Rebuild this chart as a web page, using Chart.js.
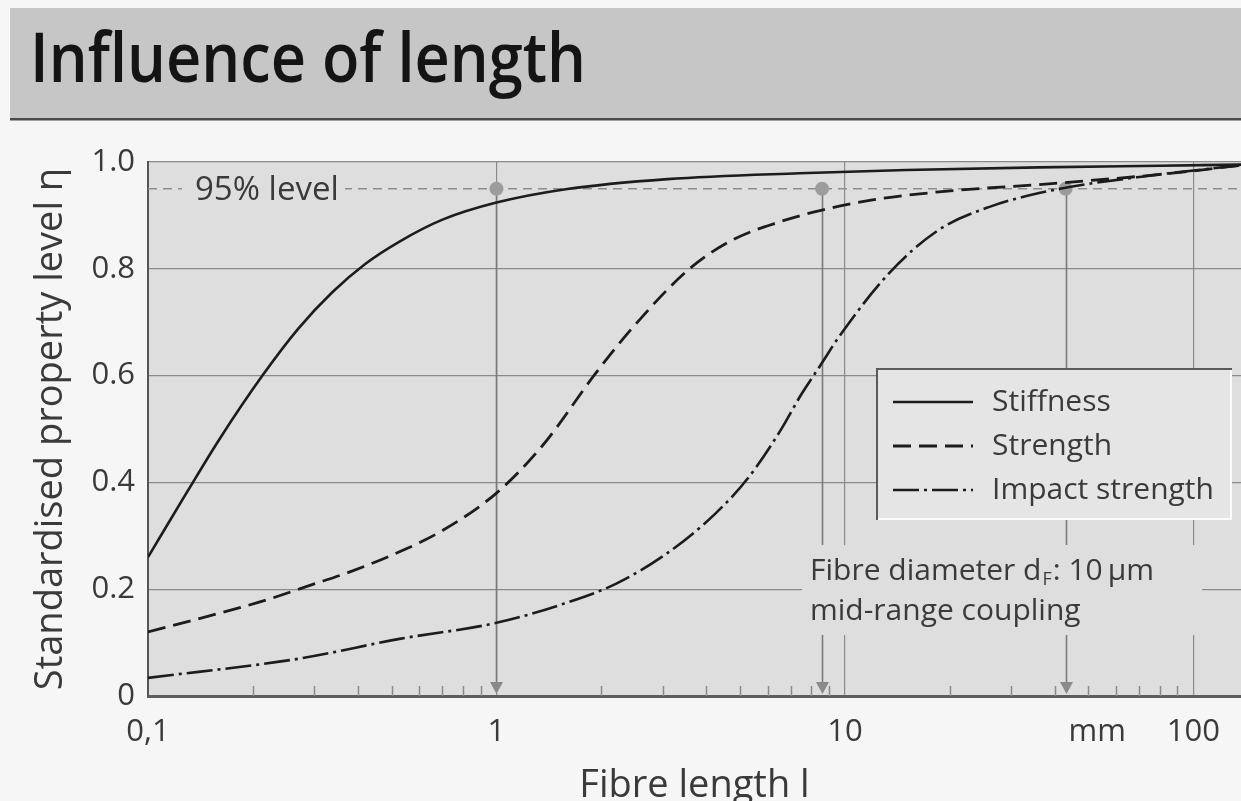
<!DOCTYPE html>
<html>
<head>
<meta charset="utf-8">
<title>Influence of length</title>
<script src="https://cdn.jsdelivr.net/npm/chart.js@4.4.1/dist/chart.umd.min.js"></script>
<style>
  html, body { margin: 0; padding: 0; background: #f6f6f6; }
  #wrap { width: 1241px; height: 801px; }
  canvas { display: block; }
</style>
</head>
<body>
<div id="wrap"><canvas id="chart" width="1241" height="801"></canvas></div>
<script>
// Fibre length l (mm) and standardised property level η of each curve
const stiffnessLength = [0.1, 0.13, 0.16, 0.213, 0.27, 0.338, 0.42, 0.527, 0.7, 1.0, 1.58, 3.1, 7.4, 15, 36, 80, 137];
const stiffnessLevel  = [0.26, 0.384, 0.48, 0.6, 0.688, 0.756, 0.809, 0.851, 0.892, 0.924, 0.949, 0.968, 0.979, 0.985, 0.99, 0.993, 0.995];

const strengthLength = [0.1, 0.15, 0.219, 0.3, 0.378, 0.527, 0.7, 1.0, 1.36, 1.93, 2.46, 3.58, 4.76, 6.5, 8.6, 12, 18.6, 40, 87, 137];
const strengthLevel  = [0.12, 0.15, 0.18, 0.21, 0.232, 0.27, 0.31, 0.38, 0.47, 0.605, 0.69, 0.80, 0.854, 0.888, 0.91, 0.929, 0.944, 0.96, 0.979, 0.994];

const impactLength = [0.1, 0.272, 0.527, 1.0, 1.58, 2.2, 3.1, 4.27, 5.3, 6.5, 7.5, 8.6, 9.6, 13.4, 18.6, 26, 40, 70, 137];
const impactLevel  = [0.034, 0.07, 0.107, 0.137, 0.174, 0.21, 0.268, 0.343, 0.41, 0.495, 0.565, 0.624, 0.672, 0.792, 0.873, 0.916, 0.948, 0.972, 0.994];

// 95 % level and the lengths where it is marked
const thresholdLevel = 0.95;
const markedLengths = [1, 8.6, 43];

// Axis ticks
const xMin = 0.1, xMax = 137;
const xTickValues = [0.1, 1, 10, 53, 100];
const xTickLabels = ['0,1', '1', '10', 'mm', '100'];
const xGridValues = [1, 10, 100];
const yTickValues = [0, 0.2, 0.4, 0.6, 0.8, 1.0];
const yTickLabels = ['0', '0.2', '0.4', '0.6', '0.8', '1.0'];

const FONT = "'Open Sans', 'Noto Sans', 'DejaVu Sans', sans-serif";
const TEXT = '#3a3a3a';
const PLOT_BG = '#dedede';
const GRID = '#8a8a8a';

const pts = (xs, ys) => xs.map((x, i) => ({ x: x, y: ys[i] }));

// Page background, title band and plot background
const backdrop = {
  id: 'backdrop',
  beforeDraw(chart) {
    const ctx = chart.ctx, a = chart.chartArea;
    ctx.save();
    ctx.fillStyle = '#f6f6f6';
    ctx.fillRect(0, 0, chart.width, chart.height);
    ctx.fillStyle = '#c6c6c6';
    ctx.fillRect(10, 8, chart.width - 10, 111);
    ctx.fillStyle = '#4a4a4a';
    ctx.fillRect(10, 118, chart.width - 10, 2.5);

    // heading, fitted to its width
    const heading = 'Influence of length';
    ctx.font = "600 69px 'Liberation Sans Narrow', 'Open Sans', 'Noto Sans', sans-serif";
    const w = ctx.measureText(heading).width;
    const sx = Math.min(1, 556 / w);
    ctx.translate(30, 82);
    ctx.scale(sx, 1);
    ctx.fillStyle = '#141414';
    ctx.textBaseline = 'alphabetic';
    ctx.fillText(heading, 0, 0);
    ctx.restore();

    ctx.save();
    ctx.fillStyle = PLOT_BG;
    ctx.fillRect(a.left, a.top, a.right - a.left, a.bottom - a.top);
    ctx.restore();
  }
};

// Minor ticks on the length axis and arrows dropped from the 95 % level
const guides = {
  id: 'guides',
  beforeDatasetsDraw(chart) {
    const ctx = chart.ctx, xs = chart.scales.x, ys = chart.scales.y;
    const base = ys.getPixelForValue(0);
    ctx.save();
    ctx.strokeStyle = GRID;
    ctx.lineWidth = 1.5;
    for (let d = 0.1; d < xMax; d *= 10) {
      for (let m = 2; m <= 9; m++) {
        const v = m * d;
        if (v > xMax) break;
        const px = Math.round(xs.getPixelForValue(v)) + 0.5;
        ctx.beginPath();
        ctx.moveTo(px, base);
        ctx.lineTo(px, base - 10);
        ctx.stroke();
      }
    }
    const top = ys.getPixelForValue(thresholdLevel);
    markedLengths.forEach(v => {
      const px = Math.round(xs.getPixelForValue(v)) + 0.5;
      ctx.strokeStyle = '#7a7a7a';
      ctx.lineWidth = 1.6;
      ctx.beginPath();
      ctx.moveTo(px, top);
      ctx.lineTo(px, base - 12);
      ctx.stroke();
      ctx.fillStyle = '#8a8a8a';
      ctx.beginPath();
      ctx.moveTo(px - 6.5, base - 14);
      ctx.lineTo(px + 6.5, base - 14);
      ctx.lineTo(px, base - 2);
      ctx.closePath();
      ctx.fill();
    });
    ctx.restore();
  },
  afterDatasetsDraw(chart) {
    const ctx = chart.ctx, ys = chart.scales.y;
    ctx.save();

    // label on the 95 % level line
    const ly = ys.getPixelForValue(thresholdLevel);
    ctx.fillStyle = PLOT_BG;
    ctx.fillRect(182, ly - 12, 163, 24);
    ctx.font = '33px ' + FONT;
    ctx.fillStyle = TEXT;
    ctx.textBaseline = 'middle';
    ctx.fillText('95% level', 195, ly + 2);

    // legend box
    const bx = 876, by = 368, bw = 356, bh = 152;
    ctx.fillStyle = '#e5e5e5';
    ctx.fillRect(bx, by, bw, bh);
    ctx.fillStyle = '#fbfbfb';
    ctx.fillRect(bx, by + bh - 2, bw, 2);
    ctx.fillRect(bx + bw - 2, by, 2, bh);
    ctx.fillStyle = '#5a5a5a';
    ctx.fillRect(bx, by, bw, 2);
    ctx.fillRect(bx, by, 2, bh);
    const rows = [402, 446, 490];
    ctx.font = '30px ' + FONT;
    chart.data.datasets.filter(ds => ds.inLegend).forEach((ds, i) => {
      const y = rows[i];
      ctx.save();
      ctx.strokeStyle = ds.borderColor;
      ctx.lineWidth = ds.borderWidth;
      ctx.setLineDash(ds.borderDash || []);
      ctx.beginPath();
      ctx.moveTo(893, y);
      ctx.lineTo(973, y);
      ctx.stroke();
      ctx.restore();
      ctx.fillStyle = TEXT;
      ctx.textBaseline = 'middle';
      ctx.fillText(ds.label, 992, y);
    });

    // fibre note
    ctx.fillStyle = PLOT_BG;
    ctx.fillRect(802, 545, 400, 90);
    ctx.fillStyle = TEXT;
    ctx.textBaseline = 'alphabetic';
    ctx.font = '30px ' + FONT;
    let x = 810;
    const p1 = 'Fibre diameter d';
    ctx.fillText(p1, x, 580);
    x += ctx.measureText(p1).width + 1;
    ctx.font = '18px ' + FONT;
    ctx.fillText('F', x, 585);
    x += ctx.measureText('F').width + 1;
    ctx.font = '30px ' + FONT;
    ctx.fillText(': 10\u2009\u00b5m', x, 580);
    ctx.fillText('mid-range coupling', 810, 620);
    ctx.restore();
  }
};

const curveStyle = {
  borderColor: '#1c1c1c',
  pointRadius: 0,
  fill: false,
  cubicInterpolationMode: 'monotone',
  order: 0,
  inLegend: true
};

new Chart(document.getElementById('chart'), {
  type: 'line',
  data: {
    datasets: [
      Object.assign({}, curveStyle, {
        label: 'Stiffness',
        data: pts(stiffnessLength, stiffnessLevel),
        borderWidth: 2.6
      }),
      Object.assign({}, curveStyle, {
        label: 'Strength',
        data: pts(strengthLength, strengthLevel),
        borderWidth: 2.8,
        borderDash: [18, 8]
      }),
      Object.assign({}, curveStyle, {
        label: 'Impact strength',
        data: pts(impactLength, impactLevel),
        borderWidth: 2.6,
        borderDash: [26, 5, 3, 5]
      }),
      {
        label: '95% level',
        data: pts([xMin, xMax], [thresholdLevel, thresholdLevel]),
        borderColor: '#8e8e8e',
        borderWidth: 1.6,
        borderDash: [9, 6],
        pointRadius: 0,
        order: 2
      },
      {
        label: 'marks',
        data: pts(markedLengths, markedLengths.map(() => thresholdLevel)),
        showLine: false,
        pointRadius: 7,
        pointBackgroundColor: '#9c9c9c',
        pointBorderWidth: 0,
        order: 1
      }
    ]
  },
  options: {
    responsive: false,
    animation: false,
    events: [],
    devicePixelRatio: 1,
    layout: { autoPadding: false, padding: { left: 20, top: 162, right: 0, bottom: 0 } },
    plugins: {
      legend: { display: false },
      tooltip: { enabled: false },
      title: { display: false }
    },
    scales: {
      x: {
        type: 'logarithmic',
        position: 'bottom',
        min: xMin,
        max: xMax,
        afterBuildTicks: s => { s.ticks = xTickValues.map(v => ({ value: v })); },
        afterFit: s => { s.height = 105; s.paddingLeft = 0; s.paddingRight = 0; },
        ticks: {
          autoSkip: false,
          maxRotation: 0,
          padding: 18,
          color: TEXT,
          font: { family: FONT, size: 31 },
          callback: (v, i) => xTickLabels[i]
        },
        grid: {
          drawTicks: false,
          lineWidth: 1.2,
          color: c => (c.tick && xGridValues.includes(c.tick.value)) ? GRID : 'rgba(0,0,0,0)'
        },
        border: { color: '#5e5e5e', width: 3 },
        title: {
          display: true,
          text: 'Fibre length l',
          color: TEXT,
          font: { family: FONT, size: 38, lineHeight: 0.8 },
          padding: 0
        }
      },
      y: {
        type: 'linear',
        min: 0,
        max: 1,
        afterBuildTicks: s => { s.ticks = yTickValues.map(v => ({ value: v })); },
        afterFit: s => { s.width = 128; s.paddingTop = 0; s.paddingBottom = 0; },
        ticks: {
          padding: 13,
          color: TEXT,
          font: { family: FONT, size: 31 },
          callback: (v, i) => yTickLabels[i]
        },
        grid: { drawTicks: false, lineWidth: 1.2, color: GRID },
        border: { color: '#555555', width: 2 },
        title: {
          display: true,
          text: 'Standardised property level \u03b7',
          color: TEXT,
          font: { family: FONT, size: 38, lineHeight: 1.2 },
          padding: { top: 8, bottom: 0 }
        }
      }
    }
  },
  plugins: [backdrop, guides]
});
</script>
</body>
</html>
